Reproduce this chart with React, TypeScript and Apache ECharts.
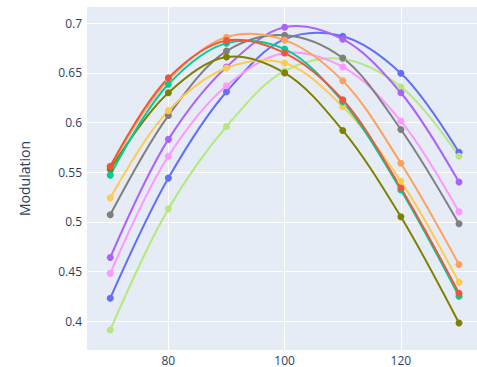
import React, { useEffect, useRef } from "react";
import * as echarts from "echarts";

const xValues = [70, 80, 90, 100, 110, 120, 130];
const xTicks = [80, 100, 120];
const yTicks = [0.4, 0.45, 0.5, 0.55, 0.6, 0.65, 0.7];

const seriesNames = ["s1", "s2", "s3", "s4", "s5", "s6", "s7", "s8", "s9", "s10"];
const seriesColors = [
  "#636EFA",
  "#B6E880",
  "#AB63FA",
  "#FF97FF",
  "#7F7F7F",
  "#FFA15A",
  "#FECB52",
  "#808000",
  "#00CC96",
  "#EF553B",
];
const blue = [0.423, 0.544, 0.631, 0.684, 0.687, 0.6496, 0.57];
const lightGreen = [0.391, 0.513, 0.596, 0.652, 0.664, 0.636, 0.566];
const purple = [0.464, 0.583, 0.656, 0.696, 0.684, 0.63, 0.54];
const pink = [0.448, 0.566, 0.637, 0.67, 0.656, 0.6015, 0.51];
const gray = [0.507, 0.607, 0.672, 0.688, 0.665, 0.593, 0.498];
const orange = [0.555, 0.643, 0.686, 0.683, 0.642, 0.559, 0.457];
const yellow = [0.524, 0.612, 0.655, 0.66, 0.616, 0.541, 0.439];
const olive = [0.553, 0.63, 0.666, 0.65, 0.592, 0.505, 0.398];
const green = [0.547, 0.6385, 0.68, 0.674, 0.621, 0.532, 0.425];
const red = [0.556, 0.645, 0.6825, 0.67, 0.623, 0.534, 0.428];
const seriesValues = [blue, lightGreen, purple, pink, gray, orange, yellow, olive, green, red];

// Plotly-style cardinal spline (smoothing = 1)
function makeTangent(p0: number[], p1: number[], p2: number[], s: number) {
  const d1x = p0[0] - p1[0], d1y = p0[1] - p1[1];
  const d2x = p2[0] - p1[0], d2y = p2[1] - p1[1];
  const d1a = Math.pow(d1x * d1x + d1y * d1y, 0.25);
  const d2a = Math.pow(d2x * d2x + d2y * d2y, 0.25);
  const numx = (d2a * d2a * d1x - d1a * d1a * d2x) * s;
  const numy = (d2a * d2a * d1y - d1a * d1a * d2y) * s;
  const den1 = 3 * d2a * (d1a + d2a);
  const den2 = 3 * d1a * (d1a + d2a);
  return [
    [p1[0] + (den1 ? numx / den1 : 0), p1[1] + (den1 ? numy / den1 : 0)],
    [p1[0] - (den2 ? numx / den2 : 0), p1[1] - (den2 ? numy / den2 : 0)],
  ];
}

function splinePath(pts: number[][]) {
  const f = (p: number[]) => p[0].toFixed(2) + " " + p[1].toFixed(2);
  let d = "M" + f(pts[0]);
  const tg: number[][][] = [];
  for (let i = 1; i < pts.length - 1; i++) tg.push(makeTangent(pts[i - 1], pts[i], pts[i + 1], 1));
  d += "Q" + f(tg[0][0]) + " " + f(pts[1]);
  for (let i = 2; i < pts.length - 1; i++) {
    d += "C" + f(tg[i - 2][1]) + " " + f(tg[i - 1][0]) + " " + f(pts[i]);
  }
  d += "Q" + f(tg[pts.length - 3][1]) + " " + f(pts[pts.length - 1]);
  return d;
}

export default function App() {
  const ref = useRef<HTMLDivElement>(null);
  useEffect(() => {
    if (!ref.current) return;
    const chart = echarts.init(ref.current, null, { renderer: "svg" });
    const font = "'Open Sans', 'Noto Sans', sans-serif";
    const series: any[] = [];
    seriesValues.forEach((vals, i) => {
      const data = vals.map((v, j) => [xValues[j], v]);
      series.push({
        name: seriesNames[i] + "-line",
        type: "custom",
        data,
        silent: true,
        renderItem: (params: any, api: any) => {
          if (params.dataIndex !== 0) return null;
          const pts = data.map((p) => api.coord(p));
          return {
            type: "path",
            shape: { pathData: splinePath(pts) },
            style: { fill: "none", stroke: seriesColors[i], lineWidth: 2 },
          };
        },
      });
      series.push({
        name: seriesNames[i],
        type: "scatter",
        data,
        symbol: "circle",
        symbolSize: 7,
        itemStyle: { color: seriesColors[i], opacity: 1 },
      });
    });
    chart.setOption({
      animation: false,
      backgroundColor: "#ffffff",
      grid: {
        left: 87,
        top: 7,
        right: 0,
        bottom: 17,
        show: true,
        backgroundColor: "#E5ECF6",
        borderWidth: 0,
      },
      xAxis: {
        type: "value",
        min: 66,
        max: 133.1,
        axisLine: { show: false },
        axisTick: { show: false, customValues: xTicks },
        axisLabel: {
          customValues: xTicks,
          color: "#2a3f5f",
          fontSize: 12,
          fontFamily: font,
          margin: 4,
        },
        splitLine: { show: true, lineStyle: { color: "#ffffff", width: 1 } },
      },
      yAxis: {
        type: "value",
        min: 0.3708,
        max: 0.7164,
        name: "Modulation",
        nameLocation: "middle",
        nameRotate: 90,
        nameGap: 56,
        nameTextStyle: { color: "#2a3f5f", fontSize: 14, fontFamily: font },
        axisLine: { show: false },
        axisTick: { show: false, customValues: yTicks },
        axisLabel: {
          customValues: yTicks,
          color: "#2a3f5f",
          fontSize: 12,
          fontFamily: font,
          margin: 5,
        },
        splitLine: { show: true, lineStyle: { color: "#ffffff", width: 1 } },
      },
      series,
    });
    return () => chart.dispose();
  }, []);
  return (
    <div
      ref={ref}
      style={{ position: "fixed", left: 0, top: 0, width: 477, height: 367 }}
    />
  );
}
